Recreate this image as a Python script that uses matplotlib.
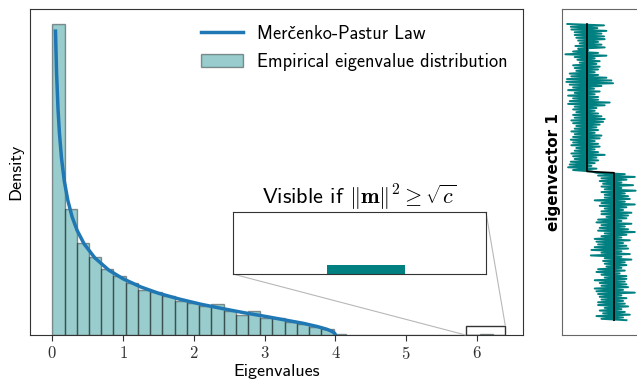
import numpy as np
import matplotlib
matplotlib.use('Agg')
import matplotlib.pyplot as plt
from mpl_toolkits.axes_grid1.inset_locator import mark_inset

plt.rcParams['mathtext.fontset'] = 'cm'
plt.rcParams['font.family'] = ['cmss10', 'Lato', 'DejaVu Sans']
plt.rcParams['axes.unicode_minus'] = False

# histogram of the eigenvalues (counts per bin, equal-width bins)
counts = [222, 90, 66, 56, 47, 42, 37, 32, 31, 28, 24, 23, 21, 22, 17, 14, 17, 12,
          12, 9, 8, 6, 4, 1, 0, 0, 0, 0, 0, 0, 0, 0, 0, 0, 0, 1]
eig_min, eig_max = 0.0, 6.22

# Marcenko-Pastur curve
mp_x = [0.045, 0.06, 0.08, 0.10, 0.13, 0.17, 0.22, 0.28, 0.35, 0.45, 0.6, 0.8, 1.0,
        1.25, 1.5, 1.8, 2.1, 2.4, 2.7, 3.0, 3.3, 3.55, 3.75, 3.88, 3.95, 3.99, 4.0]
mp_y = [1.492, 1.290, 1.114, 0.994, 0.868, 0.755, 0.660, 0.580, 0.514, 0.447, 0.379,
        0.318, 0.276, 0.236, 0.205, 0.176, 0.151, 0.130, 0.110, 0.092, 0.073, 0.057,
        0.041, 0.028, 0.018, 0.008, 0.0]

# eigenvector 1: class means and the noise around them (first class, second class)
class_means = [-1.0, 1.0]
noise_1 = [-1.45, 1.26, -1.20, 0.77, -1.16, 1.44, -0.91, 1.07, -0.91, 1.26, -0.79, 1.31,
           -0.66, 0.82, -0.54, 1.07, -0.86, 1.31, -0.66, 0.08, -1.03, 0.82, -1.60, 1.44,
           -0.91, 0.57, -0.71, 0.94, -0.54, 0.70, -1.03, 0.94, -0.91, 0.82, -0.79, 0.57,
           -1.28, 0.82, -1.16, 1.44, -1.48, 1.81, -1.53, 1.93, -1.28, 1.07, -1.03, 0.52,
           -1.40, 0.94, -0.91, 0.57, -1.40, 0.82, -1.03, 0.82, -1.28, 1.68, -1.40, 1.31,
           -0.91, 0.70, -1.03, 0.57, -0.79, 0.82, -1.03, 1.07, -0.91, 1.31, -1.16, 1.19,
           -1.03, 0.94, -0.79, 0.70, -0.91, 0.82, -1.16, 0.57, -0.91, 1.07, -1.03, 0.94,
           -1.20, 0.57, -1.03, 0.82, -1.16, 0.94, -0.79, 0.57, -0.91, 0.82, -1.16, 1.31,
           -1.03, 0.70, -0.91, 0.82, -1.20, 0.57, -1.28, 0.33, -1.40, 0.70, -1.03, 0.33]
noise_2 = [-1.30, 0.80, -1.18, 1.54, -0.93, 0.92, -1.06, 0.55, -0.81, 1.41, -0.93, 0.55,
           -0.69, 1.60, -0.93, 0.80, -0.69, 1.04, -0.69, 1.17, -1.43, 0.80, -0.93, 1.54,
           -1.06, 0.92, -0.69, 0.67, -0.93, 1.29, -0.93, 1.04, -0.56, 0.92, -1.18, 0.55,
           -1.30, 1.29, -0.93, 0.80, -1.06, 1.04, -1.18, 1.54, -0.69, 0.92, -0.93, 0.55,
           -1.43, 1.17, -1.30, 0.67, -1.18, 0.92, -1.43, 1.04, -1.67, 0.55, -0.93, 1.17,
           -1.72, 0.55, -0.69, 1.29, -0.81, 0.80, -0.69, 0.92, -0.56, 0.55, -1.18, 0.80,
           -1.30, 0.42, -0.93, 0.92, -0.69, 0.92, -1.43, 0.80, -1.06, 0.92, -0.93, 1.04,
           -1.43, 0.67, -1.30, 1.54, -1.18, 0.55, -1.06, 0.92, -0.93, 0.67, -1.18, 0.80,
           -1.18, 1.04, -0.69, 0.55, -1.06, 0.80, -0.81, 1.17, -1.30, 0.67, -0.93, 0.92]

edges = np.linspace(eig_min, eig_max, len(counts) + 1)
width = edges[1] - edges[0]
density = np.array(counts) / (np.sum(counts) * width)

fig = plt.figure(figsize=(6.37, 3.82), dpi=100)
ax = fig.add_axes([0.0471, 0.123, 0.774, 0.853])

ax.bar(edges[:-1], density, width=width, align='edge', color='teal', alpha=0.4,
       edgecolor='k', linewidth=1, label='Empirical eigenvalue distribution')
ax.plot(mp_x, mp_y, color='#1f77b4', lw=2.5, label='Merčenko-Pastur Law')
ax.set_xlim(-0.315, 6.65)
ax.set_ylim(0, 1.60)
ax.set_yticks([])
ticks = [0, 1, 2, 3, 4, 5, 6]
ax.set_xticks(ticks, labels=['$%d$' % t for t in ticks])
ax.tick_params(axis='x', direction='out', length=4, labelsize=12, colors='0.2')
for s in ax.spines.values():
    s.set_color('0.2')
ax.set_xlabel('Eigenvalues', fontsize=13, labelpad=1)
ax.set_ylabel('Density', fontsize=13, labelpad=5)
ax.legend(loc='upper right', frameon=False, fontsize=13.2, handlelength=2.3,
          handletextpad=0.75, labelspacing=0.55, borderaxespad=0.45)

# zoom on the isolated eigenvalue
axins = ax.inset_axes([(233 - 30) / 493, (335 - 274) / 326, 253 / 493, 61.6 / 326])
axins.bar(edges[:-1], density, width=width, align='edge', color='teal')
axins.set_xlim(5.84, 6.40)
axins.set_ylim(0, 0.045)
axins.set_xticks([])
axins.set_yticks([])
for s in axins.spines.values():
    s.set_color('0.2')
axins.set_title(r'Visible if $\|\mathbf{m}\|^2 \geq \sqrt{c}$', fontsize=16, pad=2)
pp, c1, c2 = mark_inset(ax, axins, loc1=3, loc2=1, fc='none', ec='0.72', lw=0.8)
pp.set_edgecolor('0.2')
pp.set_linewidth(1)

# eigenvector panel
n1, n2 = len(noise_1), len(noise_2)
vec = np.concatenate([class_means[0] + np.array(noise_1), class_means[1] + np.array(noise_2)])
means = np.repeat(class_means, [n1, n2])
idx = np.arange(n1 + n2)
ax2 = fig.add_axes([562 / 637, 0.123, 77 / 637, 0.853])
ax2.plot(vec, idx, color='teal', lw=1.4)
ax2.plot(means, idx, color='k', lw=1.2)
ax2.set_xlim(-2.85, 2.85)
ax2.invert_yaxis()
ax2.set_xticks([])
ax2.set_yticks([])
for s in ax2.spines.values():
    s.set_color('0.4')
ax2.set_ylabel('eigenvector 1', fontsize=11, fontweight='bold',
               fontfamily='DejaVu Sans', labelpad=1)

fig.savefig('out.png', dpi=100)
